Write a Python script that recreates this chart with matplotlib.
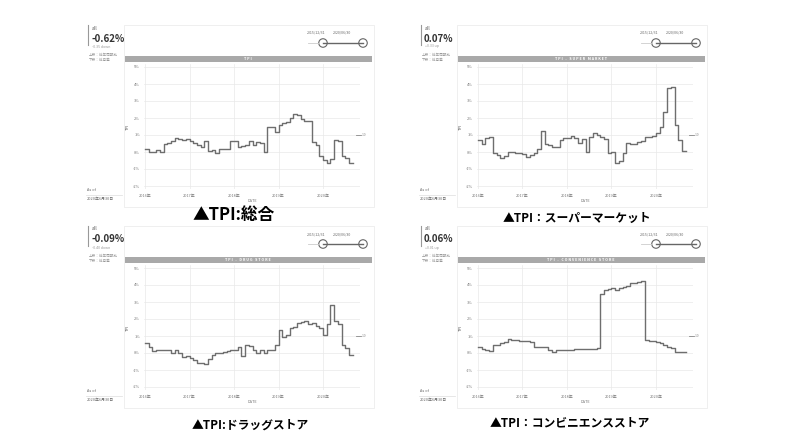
import numpy as np
import matplotlib
matplotlib.use('Agg')
import matplotlib.pyplot as plt
from matplotlib.patches import Rectangle, Ellipse
from matplotlib.lines import Line2D

plt.rcParams['font.family'] = ['Noto Sans CJK JP', 'DejaVu Sans']

W, H = 794, 447

# monthly points, Jan 2016 .. Aug 2020
months = 2016 + np.arange(56) / 12

tpi_all = [0.15, 0.0, 0.0, 0.1, 0.0, 0.45, 0.55, 0.65, 0.8, 0.75, 0.7, 0.75, 0.65, 0.55,
           0.4, 0.3, 0.65, 0.05, 0.1, -0.05, 0.15, 0.2, 0.2, 0.65, 0.65, 0.3, 0.35, 0.4,
           0.65, 0.4, 0.6, 0.55, 0.0, 1.45, 1.45, 1.2, 1.6, 1.7, 1.75, 2.0, 2.25, 2.2,
           1.95, 1.8, 1.85, 0.6, 0.4, -0.25, -0.45, -0.65, -0.4, 0.7, 0.65, -0.25, -0.35, -0.62]
tpi_super = [0.7, 0.45, 0.85, 0.9, -0.05, -0.2, -0.37, -0.25, 0.0, 0.02, -0.05, -0.05, -0.1, -0.3,
             -0.15, -0.05, 0.15, 1.23, 0.45, 0.4, 0.3, 0.3, 0.7, 0.8, 0.8, 0.94, 0.8, 0.55,
             0.75, 0.02, 0.9, 1.14, 1.0, 0.86, 0.75, -0.04, 0.02, -0.63, -0.5, -0.08, 0.55, 0.45,
             0.5, 0.6, 0.66, 0.86, 0.9, 0.95, 1.1, 1.5, 2.37, 3.76, 3.84, 1.59, 0.7, 0.07]
tpi_drug = [0.57, 0.35, 0.1, 0.15, 0.17, 0.2, 0.2, -0.02, 0.2, -0.02, -0.25, -0.2, -0.3, -0.4,
            -0.57, -0.6, -0.65, -0.35, -0.1, 0.0, 0.0, 0.05, 0.14, 0.2, 0.2, 0.37, -0.2, 0.47,
            0.4, 0.2, 0.0, 0.2, 0.0, 0.2, 0.2, 0.47, 1.35, 0.96, 1.05, 1.45, 1.55, 1.75,
            1.85, 1.9, 1.7, 1.75, 1.6, 1.45, 1.06, 1.7, 2.8, 1.9, 1.7, 0.47, 0.27, -0.09]
tpi_conv = [0.35, 0.22, 0.2, 0.14, 0.47, 0.47, 0.6, 0.62, 0.8, 0.78, 0.75, 0.73, 0.71, 0.68,
            0.66, 0.37, 0.37, 0.35, 0.33, 0.18, 0.08, 0.17, 0.18, 0.19, 0.19, 0.2, 0.21, 0.22,
            0.23, 0.24, 0.25, 0.26, 0.27, 3.47, 3.71, 3.75, 3.8, 3.72, 3.85, 3.88, 3.95, 4.1,
            4.1, 4.2, 4.25, 0.76, 0.73, 0.7, 0.65, 0.6, 0.5, 0.37, 0.27, 0.06, 0.05, 0.06]

series = [tpi_all, tpi_super, tpi_drug, tpi_conv]
latest = ['-0.62%', '0.07%', '-0.09%', '0.06%']
changes = ['-0.35 down', '+0.33 up', '-0.40 down', '+0.01 up']
bar_titles = ['TPI', 'TPI - SUPER MARKET', 'TPI - DRUG STORE', 'TPI - CONVENIENCE STORE']
captions = ['▲TPI:総合', '▲TPI：スーパーマーケット', '▲TPI:ドラッグストア', '▲TPI：コンビニエンスストア']
years = [2016, 2017, 2018, 2019, 2020]
year_labels = ['2016年', '2017年', '2018年', '2019年', '2020年']
yticks = [5, 4, 3, 2, 1, 0, -1, -2]
ytick_labels = ['5%', '4%', '3%', '2%', '1%', '0%', '-1%', '-2%']

offsets = [(0, 0), (333, 0), (0, 201), (333, 201)]
cap_pos = [(234, 215), (577, 218), (250, 425), (570, 423)]
cap_size = [12, 8.5, 8.5, 8.5]


def fx(p):
    return p / W


def fy(p):
    return 1 - p / H


fig = plt.figure(figsize=(W / 100, H / 100), dpi=100)
fig.patch.set_facecolor('white')


def ftext(x, y, s, **kw):
    fig.text(fx(x), fy(y), s, **kw)


def fline(x0, y0, x1, y1, **kw):
    fig.add_artist(Line2D([fx(x0), fx(x1)], [fy(y0), fy(y1)], transform=fig.transFigure, **kw))


for k in range(4):
    ox, oy = offsets[k]

    # panel frame
    fig.add_artist(Rectangle((fx(124 + ox), fy(207 + oy)), 250 / W, 182 / H,
                             transform=fig.transFigure, fill=False, ec='#ececec', lw=0.6))

    # left info column
    fline(88 + ox, 25 + oy, 88 + ox, 45 + oy, color='#999999', lw=0.8)
    ftext(92 + ox, 28 + oy, 'all', fontsize=3.5, color='#555555', va='center')
    ftext(91 + ox, 38.5 + oy, latest[k], fontsize=7, fontweight='bold', color='#333333', va='center')
    ftext(92 + ox, 46.5 + oy, changes[k], fontsize=2.6, color='#999999', va='center')
    ftext(89 + ox, 54.5 + oy, '上段：前年同期比', fontsize=2.6, color='#999999', va='center')
    ftext(89 + ox, 60 + oy, '下段：前月差', fontsize=2.6, color='#999999', va='center')
    ftext(87 + ox, 190 + oy, 'As of', fontsize=2.8, color='#666666', va='center')
    fline(86 + ox, 195 + oy, 122 + ox, 195 + oy, color='#dddddd', lw=0.5)
    ftext(87 + ox, 199 + oy, '2020年6月30日', fontsize=2.8, color='#666666', va='center')

    # date slider
    ftext(316 + ox, 33 + oy, '2015/12/31', fontsize=2.6, color='#666666', ha='center', va='center')
    ftext(342 + ox, 33 + oy, '2020/06/30', fontsize=2.6, color='#666666', ha='center', va='center')
    fline(308 + ox, 43 + oy, 319 + ox, 43 + oy, color='#cccccc', lw=0.6)
    fline(323 + ox, 43 + oy, 363 + ox, 43 + oy, color='#666666', lw=1.0)
    for cx in (323, 363):
        fig.add_artist(Ellipse((fx(cx + ox), fy(43 + oy)), 8.5 / W, 8.5 / H,
                               transform=fig.transFigure, fc='white', ec='#666666', lw=0.8))

    # title bar
    fig.add_artist(Rectangle((fx(125 + ox), fy(61.5 + oy)), 247 / W, 5.5 / H,
                             transform=fig.transFigure, fc='#a9a9a9', ec='none'))
    ftext(248 + ox, 58.8 + oy, ' '.join(bar_titles[k]), fontsize=2.6, color='white',
          fontweight='bold', ha='center', va='center')

    # chart
    ax = fig.add_axes([fx(144 + ox), fy(189.4 + oy), 216 / W, 125.8 / H])
    xs = np.append(months, 2016 + 56 / 12)
    vs = np.append(series[k], series[k][-1])
    ax.step(xs, vs, where='post', color='#6e6e6e', lw=1.0)
    ax.set_xlim(2016 - 1 / 44.5, 2016 + 215 / 44.5)
    ax.set_ylim(-2.2, 5.2)
    ax.set_xticks(years)
    ax.set_xticklabels(year_labels, fontsize=2.8, color='#777777')
    ax.set_yticks(yticks)
    ax.set_yticklabels(ytick_labels, fontsize=2.8, color='#777777')
    ax.tick_params(length=0, pad=3)
    ax.grid(True, color='#e9e9e9', lw=0.5)
    for s in ax.spines.values():
        s.set_visible(False)
    ax.set_xlabel('DATE', fontsize=2.8, color='#777777', labelpad=1)
    ax.set_ylabel('TPI', fontsize=3, color='#555555', labelpad=2)
    # reference marker at right
    fline(356 + ox, 135 + oy, 361 + ox, 135 + oy, color='#888888', lw=0.6)
    ftext(362 + ox, 135 + oy, '1.0', fontsize=2.4, color='#888888', va='center')

    # caption
    cx, cy = cap_pos[k]
    ftext(cx, cy, captions[k], fontsize=cap_size[k], fontweight='bold', color='black',
          ha='center', va='center')

fig.savefig('out.png', dpi=100, facecolor='white')
